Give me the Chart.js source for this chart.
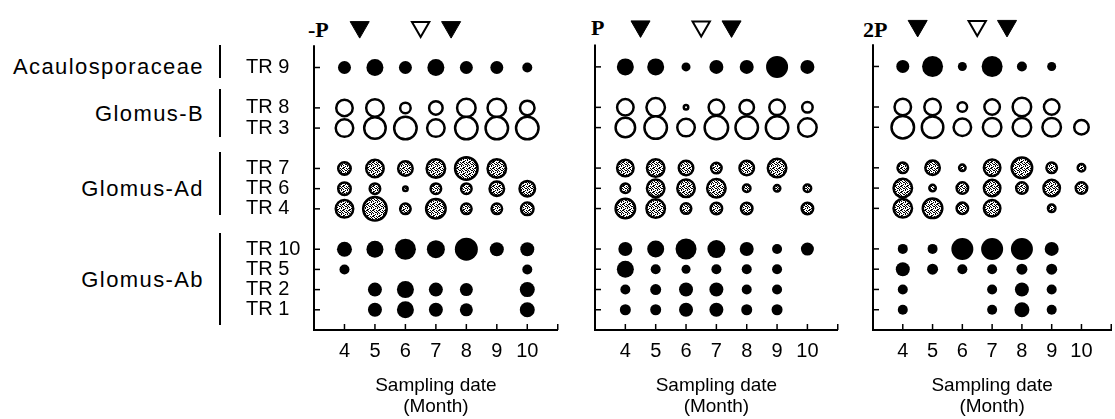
<!DOCTYPE html>
<html>
<head>
<meta charset="utf-8">
<script src="https://cdn.jsdelivr.net/npm/chart.js@4.4.0/dist/chart.umd.min.js"></script>
<style>
  html, body { margin: 0; padding: 0; background: #fff; overflow: hidden; }
  #wrap { position: relative; width: 1115px; height: 419px; overflow: hidden; }
  canvas { position: absolute; top: 0; }
  .grp { position: absolute; left: 0; width: 204px; text-align: right; color: #000;
         font: 22px 'Liberation Sans', Arial, sans-serif; letter-spacing: 1.4px;
         line-height: 22px; white-space: nowrap; }
  .bar { position: absolute; left: 219px; width: 2px; background: #000; }
  .ptitle { position: absolute; color: #000; line-height: 22px;
            font: bold 22px 'Liberation Serif', 'Times New Roman', serif; }
</style>
</head>
<body>
<div id="wrap">
  <div class="grp" style="top:56px">Acaulosporaceae</div>
  <div class="bar" style="top:45px;height:33px"></div>
  <div class="grp" style="top:103px">Glomus-B</div>
  <div class="bar" style="top:89px;height:48px"></div>
  <div class="grp" style="top:178px">Glomus-Ad</div>
  <div class="bar" style="top:152px;height:63px"></div>
  <div class="grp" style="top:269px">Glomus-Ab</div>
  <div class="bar" style="top:233px;height:92px"></div>

  <div class="ptitle" style="left:308px;top:17px">-P</div>
  <div class="ptitle" style="left:591px;top:15px">P</div>
  <div class="ptitle" style="left:863px;top:17px">2P</div>

  <canvas id="panelA" width="572" height="419" style="left:0px"></canvas>
  <canvas id="panelB" width="272" height="419" style="left:580px"></canvas>
  <canvas id="panelC" width="267" height="419" style="left:858px"></canvas>
</div>
<script>
// sampling months (x) and tick labels
var months = [4, 5, 6, 7, 8, 9, 10];
var monthTicks = [4, 5, 6, 7, 8, 9, 10, 11];

// rows, top to bottom
var rowLabels = ['TR 9', 'TR 8', 'TR 3', 'TR 7', 'TR 6', 'TR 4', 'TR 10', 'TR 5', 'TR 2', 'TR 1'];
var rowLevels = [13, 11, 10, 8, 7, 6, 4, 3, 2, 1];
var rowKinds = ['solid', 'open', 'open', 'dotted', 'dotted', 'dotted', 'solid', 'solid', 'solid', 'solid'];

// relative abundance (bubble size index), one row per TR, one column per month
var abundMinusP = [
  [13, 17, 13, 17, 13, 13, 10],
  [19, 20, 13, 16, 21, 21, 17],
  [20, 24, 25, 20, 25, 25, 25],
  [15, 20, 17, 21, 25, 21, null],
  [15, 13, 7, 13, 13, 17, 18],
  [20, 26, 13, 22, 13, 13, 15],
  [15, 17, 21, 18, 23, 14, 14],
  [10, null, null, null, null, null, 10],
  [null, 14, 17, 14, 13, null, 15],
  [null, 14, 17, 14, 13, null, 15]
];
var abundP = [
  [17, 17, 9, 14, 14, 22, 14],
  [19, 21, 7, 18, 17, 18, 13],
  [22, 25, 20, 26, 25, 25, 21],
  [19, 20, 17, 13, 17, 21, null],
  [12, 20, 20, 21, 10, 9, 10],
  [22, 21, 13, 14, 14, null, 14],
  [14, 17, 21, 18, 14, 10, 13],
  [17, 10, 9, 10, 10, 10, null],
  [10, 11, 14, 14, 10, 10, null],
  [11, 11, 14, 14, 11, 11, null]
];
var abund2P = [
  [13, 21, 9, 21, 10, 9, null],
  [19, 19, 12, 18, 21, 18, null],
  [25, 24, 20, 21, 21, 21, 17],
  [13, 17, 9, 19, 23, 13, 10],
  [21, 9, 14, 19, 14, 19, 14],
  [21, 22, 14, 19, null, 10, null],
  [10, 10, 22, 22, 22, 14, null],
  [14, 11, 10, 10, 11, 11, null],
  [10, null, null, 10, 14, 10, null],
  [10, null, null, 10, 15, 10, null]
];

// event markers above the plots
var filledMarks = [4.5, 7.5];
var openMarks = [6.5];

var markLevel = 15;
var axisTop = 14.1;

Chart.defaults.font.family = "'Liberation Sans', Arial, sans-serif";
Chart.defaults.color = '#000';

// speckled fill used for the Glomus-Ad rows
function makeStipple() {
  var c = document.createElement('canvas');
  c.width = 6; c.height = 6;
  var g = c.getContext('2d');
  g.fillStyle = '#fff';
  g.fillRect(0, 0, 6, 6);
  g.fillStyle = '#000';
  var dots = [[0,0],[1,0],[4,0],[2,1],[5,1],[0,2],[3,2],[4,2],[1,3],[5,3],
              [3,4],[5,4],[1,5],[2,5]];
  dots.forEach(function (d) { g.fillRect(d[0], d[1], 1, 1); });
  return g.createPattern(c, 'repeat');
}
var stipple = makeStipple();

var kindStyle = {
  solid:  { bg: '#000', border: '#000', bw: 0 },
  open:   { bg: '#fff', border: '#000', bw: 2.5 },
  dotted: { bg: stipple, border: '#000', bw: 2.5 }
};

function pointsFor(values, kind) {
  var pts = [];
  rowKinds.forEach(function (k, i) {
    if (k !== kind) return;
    values[i].forEach(function (v, j) {
      if (v == null) return;
      pts.push({ x: months[j], y: rowLevels[i], r: v / 2 - kindStyle[kind].bw / 2 });
    });
  });
  return pts;
}

// y axis line and inward tick marks
var innerAxes = {
  id: 'innerAxes',
  afterDraw: function (chart) {
    var ctx = chart.ctx, area = chart.chartArea;
    var xs = chart.scales.x, ys = chart.scales.y;
    ctx.save();
    ctx.strokeStyle = '#000';
    ctx.lineWidth = 2;
    ctx.beginPath();
    ctx.moveTo(area.left, ys.getPixelForValue(axisTop));
    ctx.lineTo(area.left, area.bottom + 1);
    ctx.stroke();
    ctx.lineWidth = 1.5;
    ys.ticks.forEach(function (t) {
      var py = ys.getPixelForValue(t.value);
      ctx.beginPath();
      ctx.moveTo(area.left, py);
      ctx.lineTo(area.left + 6, py);
      ctx.stroke();
    });
    xs.ticks.forEach(function (t) {
      var px = xs.getPixelForValue(t.value);
      ctx.beginPath();
      ctx.moveTo(px, area.bottom);
      ctx.lineTo(px, area.bottom - 6);
      ctx.stroke();
    });
    ctx.restore();
  }
};

function makePanel(id, values, showRows, padLeft, yWidth) {
  var ds = ['solid', 'open', 'dotted'].map(function (kind) {
    var s = kindStyle[kind];
    return {
      data: pointsFor(values, kind),
      backgroundColor: s.bg,
      borderColor: s.border,
      borderWidth: s.bw
    };
  });
  ds.push({
    data: filledMarks.map(function (m) { return { x: m, y: markLevel, r: 11 }; }),
    pointStyle: 'triangle', rotation: 180,
    backgroundColor: '#000', borderColor: '#000', borderWidth: 1, clip: false
  });
  ds.push({
    data: openMarks.map(function (m) { return { x: m, y: markLevel, r: 10 }; }),
    pointStyle: 'triangle', rotation: 180,
    backgroundColor: '#fff', borderColor: '#000', borderWidth: 2, clip: false
  });

  return new Chart(document.getElementById(id).getContext('2d'), {
    type: 'bubble',
    data: { datasets: ds },
    plugins: [innerAxes],
    options: {
      responsive: false,
      animation: false,
      events: [],
      layout: { padding: { left: padLeft, right: 4, top: 9, bottom: 0 } },
      plugins: { legend: { display: false }, tooltip: { enabled: false } },
      scales: {
        x: {
          type: 'linear', min: 3, max: 11,
          grid: { display: false, drawTicks: false },
          border: { display: true, color: '#000', width: 2 },
          afterBuildTicks: function (scale) {
            scale.ticks = monthTicks.map(function (v) { return { value: v }; });
          },
          afterFit: function (scale) { scale.height = 89; },
          ticks: {
            padding: 9,
            font: { size: 20 },
            callback: function (v) { return months.indexOf(v) >= 0 ? String(v) : ''; }
          },
          title: {
            display: true,
            text: ['Sampling date', '(Month)'],
            font: { size: 19, lineHeight: 1.1 },
            padding: { top: 0, bottom: 2 }
          }
        },
        y: {
          type: 'linear', min: 0, max: 15.6,
          grid: { display: false, drawTicks: false },
          border: { display: false },
          afterBuildTicks: function (scale) {
            scale.ticks = rowLevels.map(function (v) { return { value: v }; });
          },
          afterFit: function (scale) { scale.width = yWidth; },
          ticks: {
            display: showRows,
            crossAlign: 'far',
            font: { size: 20 },
            callback: function (v, i) { return rowLabels[i]; }
          }
        }
      }
    }
  });
}

makePanel('panelA', abundMinusP, true, 246, 68);
makePanel('panelB', abundP, false, 5, 10);
makePanel('panelC', abund2P, false, 5, 10);
</script>
</body>
</html>
